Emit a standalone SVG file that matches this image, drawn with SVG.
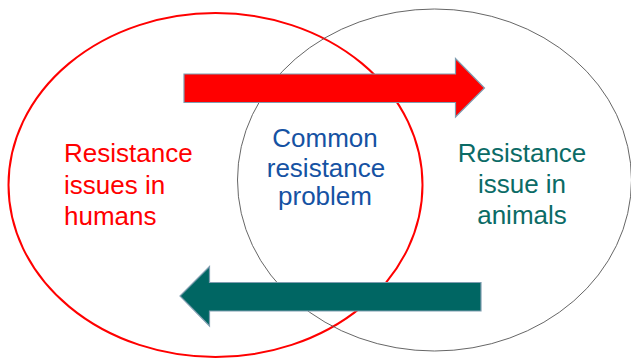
<svg xmlns="http://www.w3.org/2000/svg" width="631" height="358" viewBox="0 0 631 358">
<style>
.t{font-family:"Liberation Sans",Arial,sans-serif;font-size:26px}
.arrow{stroke:#7f9db0;stroke-width:1.2}
</style>
<rect width="631" height="358" fill="#fff"/>
<g id="humans">
<ellipse cx="215.5" cy="185" rx="207" ry="172" fill="none" stroke="#ff0000" stroke-width="2"/>
<text class="t" fill="#ff0000" x="64" y="162">Resistance</text>
<text class="t" fill="#ff0000" x="64" y="194">issues in</text>
<text class="t" fill="#ff0000" x="64" y="225">humans</text>
</g>
<g id="animals">
<ellipse cx="434.5" cy="180" rx="197" ry="171" fill="none" stroke="#555" stroke-width="0.9"/>
<text class="t" fill="#0b6b66" text-anchor="middle" x="522" y="162">Resistance</text>
<text class="t" fill="#0b6b66" text-anchor="middle" x="522" y="192.5">issue in</text>
<text class="t" fill="#0b6b66" text-anchor="middle" x="522" y="223.5">animals</text>
</g>
<g id="common">
<text class="t" fill="#1552a3" text-anchor="middle" x="325" y="146.5">Common</text>
<text class="t" fill="#1552a3" text-anchor="middle" x="326" y="176.5">resistance</text>
<text class="t" fill="#1552a3" text-anchor="middle" x="325" y="205">problem</text>
</g>
<g id="connectors">
<polygon class="arrow" fill="#ff0000" points="184,74 455.5,74 455.5,58.5 484.5,88 455.5,117 455.5,102.5 184,102.5"/>
<polygon class="arrow" fill="#006663" points="481,282.5 209.5,282.5 209.5,266.5 180,296 209.5,326 209.5,311 481,311"/>
</g>
</svg>
